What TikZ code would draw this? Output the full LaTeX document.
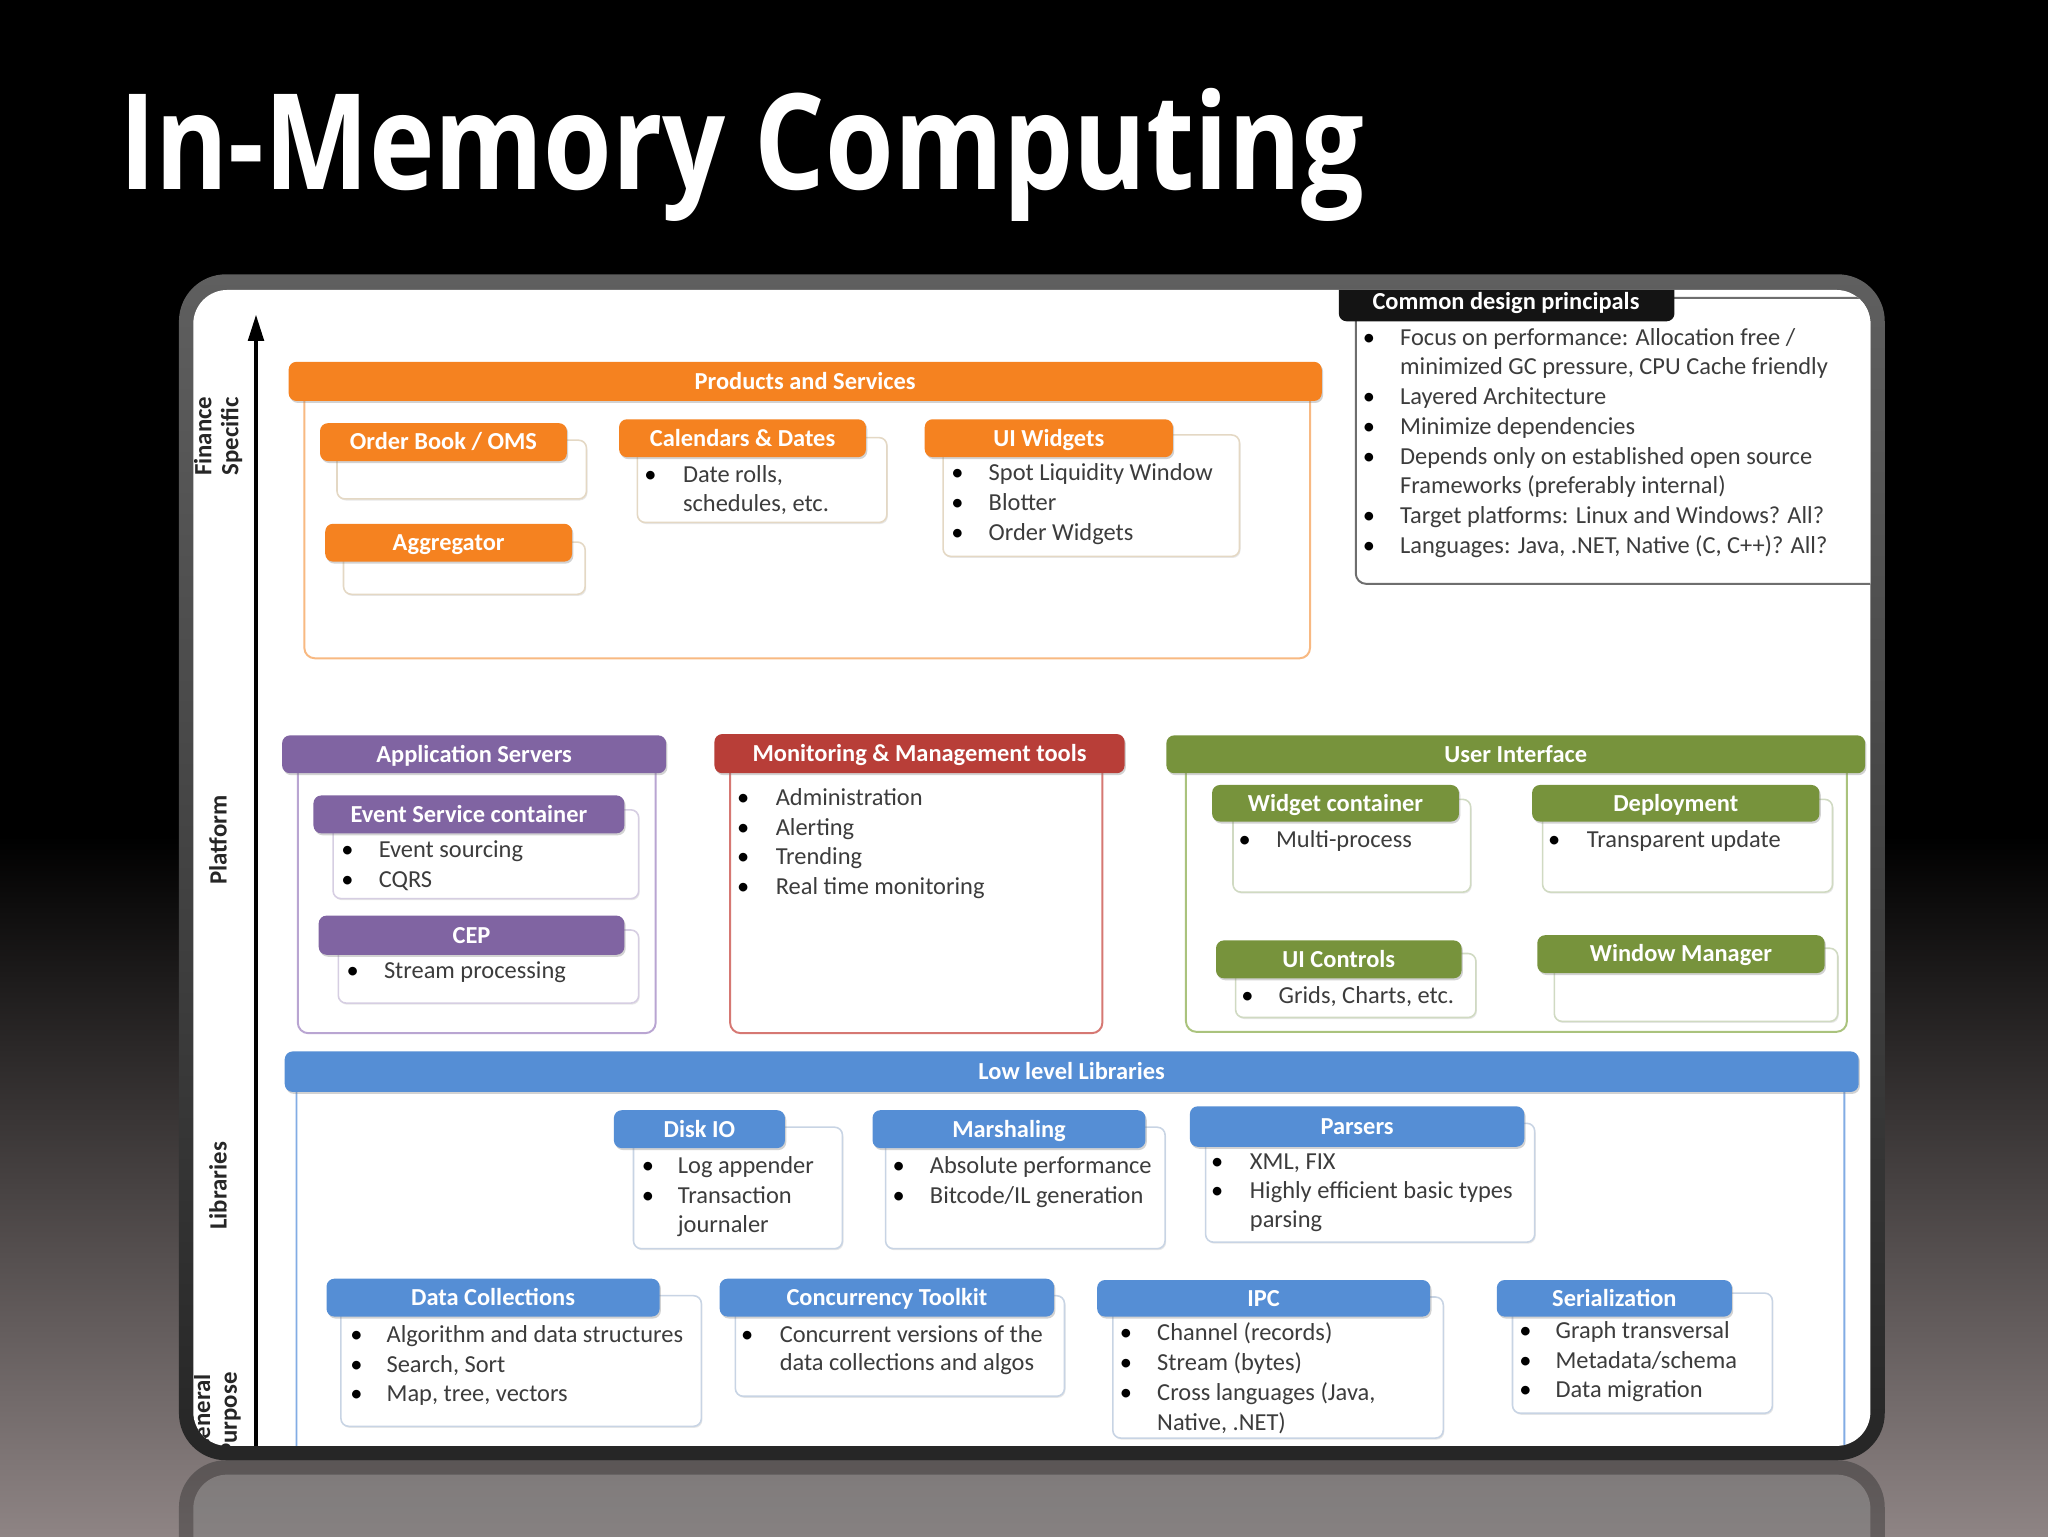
\documentclass[tikz,border=0pt]{standalone}
\usepackage{fontspec}
\setmainfont{Carlito}
\newfontfamily\titlef{Open Sans}
\usepackage{graphicx}
\usetikzlibrary{shadows,arrows.meta}
\definecolor{cOr}{RGB}{245,130,32}
\definecolor{cOrL}{RGB}{248,185,130}
\definecolor{cOrB}{RGB}{228,216,196}
\definecolor{cPu}{RGB}{128,100,162}
\definecolor{cPuL}{RGB}{185,165,210}
\definecolor{cPuB}{RGB}{214,206,226}
\definecolor{cRe}{RGB}{184,62,56}
\definecolor{cReL}{RGB}{214,120,115}
\definecolor{cGr}{RGB}{119,147,60}
\definecolor{cGrL}{RGB}{170,195,125}
\definecolor{cGrB}{RGB}{208,218,194}
\definecolor{cBl}{RGB}{85,142,213}
\definecolor{cBlL}{RGB}{130,172,228}
\definecolor{cBlB}{RGB}{200,212,228}
\definecolor{txt}{RGB}{60,60,60}
\definecolor{bgbot}{RGB}{142,132,132}
\definecolor{frtop}{RGB}{95,95,95}
\definecolor{frbot}{RGB}{38,38,38}
\definecolor{cmbox}{RGB}{110,110,110}
\tikzset{
 hdrfill/.style={rounded corners=6pt, drop shadow={shadow xshift=1pt, shadow yshift=-1.5pt, opacity=0.35}},
 hdrtxt/.style={anchor=base, inner sep=0pt, outer sep=0pt, text=white, font=\bfseries\fontsize{18.7}{20}\selectfont},
 boxs/.style={rounded corners=6pt, line width=1.2pt, fill=white, drop shadow={shadow xshift=0.8pt, shadow yshift=-1.2pt, opacity=0.18}},
 cont/.style={rounded corners=8pt, line width=1.5pt},
 lst/.style={inner sep=0pt, outer sep=0pt, anchor=base west, text=txt, font=\fontsize{18.7}{22}\selectfont},
 bul/.style={inner sep=0pt, outer sep=0pt, anchor=base, text=black, font=\fontsize{18.7}{22}\selectfont},
 axl/.style={rotate=90, align=center, inner sep=0pt, text={black!85}, font=\bfseries\fontsize{19}{20.5}\selectfont},
}
% name, x1, y1, x2, y2, colour, text
\newcommand\hdr[7]{\fill[hdrfill, fill=#6] (#2,#3) rectangle (#4,#5);
  \node[hdrtxt] (#1) at ({(#2+#4)/2},{(#3+#5)/2+6}) {#7};}
\newcommand\bodybox[5]{\draw[boxs, draw=#5] (#1,#2) rectangle (#3,#4);}
% bullet line: name, bullet x, text x, y, text
\newcommand\bl[5]{\node[bul] (#1b) at (#2,#4+5.5) {\textbullet};
  \node[lst] (#1) at (#3,#4+5.5) {#5};}
% continuation line: name, text x, y, text
\newcommand\cl[4]{\node[lst] (#1) at (#2,#3+5.5) {#4};}
\begin{document}
\begin{tikzpicture}[x=1pt,y=-1pt]
\useasboundingbox (0,0) rectangle (1568,1176);
% background
\fill[black] (0,0) rectangle (1568,640);
\shade[top color=black, bottom color=bgbot] (0,640) rectangle (1568,1176);
% reflection below the frame (mirrored frame, faded)
\begin{scope}
\clip (0,1118) rectangle (1568,1176);
\fill[frbot, opacity=0.4, rounded corners=36pt] (137,1118) rectangle (1443,2026);
\fill[white, opacity=0.22, rounded corners=26pt] (148,1129) rectangle (1432,2014);
\end{scope}
% title
\node[anchor=base west, inner sep=0pt, text=white, font=\titlef\bfseries\fontsize{102}{110}\selectfont] (title) at (91,145) {\scalebox{0.833}[1]{In-Memory Computing}};
% frame
\shade[rounded corners=36pt, top color=frtop, bottom color=frbot] (137,210) rectangle (1443,1118);
\fill[white, rounded corners=26pt] (148,222) rectangle (1432,1107);
\begin{scope}
\clip[rounded corners=26pt] (148,222) rectangle (1432,1107);
% common design principals
\draw[cmbox, line width=1.5pt, rounded corners=8pt, fill=white] (1038,228) rectangle (1460,447);
\fill[black!92, rounded corners=6pt] (1025,212) rectangle (1282,246);
\node[hdrtxt] (tCM) at (1153,237) {Common design principals};
\bl{c1}{1048}{1072}{259}{Focus on performance: Allocation free /}
\cl{c2}{1072}{281.5}{minimized GC pressure, CPU Cache friendly}
\bl{c3}{1048}{1072}{304}{Layered Architecture}
\bl{c4}{1048}{1072}{327}{Minimize dependencies}
\bl{c5}{1048}{1072}{350}{Depends only on established open source}
\cl{c6}{1072}{372.5}{Frameworks (preferably internal)}
\bl{c7}{1048}{1072}{395.5}{Target platforms: Linux and Windows? All?}
\bl{c8}{1048}{1072}{418}{Languages: Java, .NET, Native (C, C++)? All?}
% axis
\coordinate (axb) at (196,1110);
\coordinate (axt) at (196,241);
\draw[line width=2.4pt, -{Triangle[length=20pt,width=12pt]}] (axb) -- (axt);
\node[axl] (aFS) at (167,334) {Finance\\Specific};
\node[axl] (aPL) at (167,643) {Platform};
\node[axl] (aLI) at (167,908) {Libraries};
\node[axl] (aGP) at (166,1083) {General\\Purpose};
% ---------- Products and Services
\draw[cont, draw=cOrL] (233,292) rectangle (1003,504);
\bodybox{258}{337}{449}{382}{cOrB}
\bodybox{263}{415}{448}{455}{cOrB}
\bodybox{488}{335}{679}{400}{cOrB}
\bodybox{722}{333}{949}{426}{cOrB}
\hdr{hPS}{221}{277}{1012}{307}{cOr}{Products and Services}
\hdr{hOB}{245}{324}{434}{353}{cOr}{Order Book / OMS}
\hdr{hAG}{249}{401}{438}{430}{cOr}{Aggregator}
\hdr{hCD}{474}{321}{663}{350}{cOr}{Calendars \& Dates}
\hdr{hUW}{708}{321}{898}{350}{cOr}{UI Widgets}
\bl{cd1}{498}{523}{364}{Date rolls,}
\cl{cd2}{523}{386}{schedules, etc.}
\bl{uw1}{733}{757}{362.5}{Spot Liquidity Window}
\bl{uw2}{733}{757}{385.4}{Blotter}
\bl{uw3}{733}{757}{408.3}{Order Widgets}
% ---------- Application Servers
\draw[cont, draw=cPuL] (228,578) rectangle (502,791);
\bodybox{255}{620}{489}{688}{cPuB}
\bodybox{259}{712}{489}{768}{cPuB}
\hdr{hAS}{216}{563}{510}{592}{cPu}{Application Servers}
\hdr{hES}{240}{609}{478}{638}{cPu}{Event Service container}
\hdr{hCE}{244}{701}{478}{731}{cPu}{CEP}
\bl{es1}{266}{290}{651}{Event sourcing}
\bl{es2}{266}{290}{674}{CQRS}
\bl{ce1}{270}{294}{744}{Stream processing}
% ---------- Monitoring
\draw[cont, draw=cReL] (559,578) rectangle (844,791);
\hdr{hMM}{547}{562}{861}{592}{cRe}{Monitoring \& Management tools}
\bl{mm1}{569}{594}{611}{Administration}
\bl{mm2}{569}{594}{634}{Alerting}
\bl{mm3}{569}{594}{656.5}{Trending}
\bl{mm4}{569}{594}{679}{Real time monitoring}
% ---------- User Interface
\draw[cont, draw=cGrL] (908,578) rectangle (1414,790);
\bodybox{944}{612}{1126}{683}{cGrB}
\bodybox{1181}{612}{1403}{683}{cGrB}
\bodybox{946}{730}{1130}{779}{cGrB}
\bodybox{1190}{726}{1407}{782}{cGrB}
\hdr{hUI}{893}{563}{1428}{592}{cGr}{User Interface}
\hdr{hWC}{928}{601}{1117}{629}{cGr}{Widget container}
\hdr{hDP}{1173}{601}{1393}{629}{cGr}{Deployment}
\hdr{hUC}{931}{720}{1119}{749}{cGr}{UI Controls}
\hdr{hWM}{1177}{716}{1397}{745}{cGr}{Window Manager}
\bl{wc1}{953}{977}{643}{Multi-process}
\bl{dp1}{1190}{1215}{643}{Transparent update}
\bl{uc1}{955}{979}{763}{Grids, Charts, etc.}
% ---------- Low level Libraries
\draw[cont, draw=cBlL] (227,820) rectangle (1412,1130);
\bodybox{485}{863}{645}{956}{cBlB}
\bodybox{678}{863}{892}{956}{cBlB}
\bodybox{923}{860}{1175}{951}{cBlB}
\bodybox{261}{992}{537}{1092}{cBlB}
\bodybox{563}{992}{815}{1069}{cBlB}
\bodybox{852}{993}{1105}{1101}{cBlB}
\bodybox{1158}{990}{1357}{1082}{cBlB}
\hdr{hLL}{218}{805}{1423}{836}{cBl}{Low level Libraries}
\hdr{hDI}{470}{850}{601}{879}{cBl}{Disk IO}
\hdr{hMA}{668}{850}{877}{879}{cBl}{Marshaling}
\hdr{hPA}{911}{847}{1167}{878}{cBl}{Parsers}
\hdr{hDC}{250}{979}{505}{1008}{cBl}{Data Collections}
\hdr{hCT}{551}{979}{807}{1008}{cBl}{Concurrency Toolkit}
\hdr{hIP}{840}{980}{1095}{1008}{cBl}{IPC}
\hdr{hSE}{1146}{980}{1326}{1008}{cBl}{Serialization}
\bl{di1}{496}{519}{893}{Log appender}
\bl{di2}{496}{519}{915.7}{Transaction}
\cl{di3}{519}{938}{journaler}
\bl{ma1}{688}{712}{893}{Absolute performance}
\bl{ma2}{688}{712}{915.7}{Bitcode/IL generation}
\bl{pa1}{932}{957}{889.5}{XML, FIX}
\bl{pa2}{932}{957}{912.4}{Highly efficient basic types}
\cl{pa3}{957}{934}{parsing}
\bl{dc1}{273}{296}{1022}{Algorithm and data structures}
\bl{dc2}{273}{296}{1045}{Search, Sort}
\bl{dc3}{273}{296}{1067.4}{Map, tree, vectors}
\bl{ct1}{572}{597}{1022}{Concurrent versions of the}
\cl{ct2}{597}{1044}{data collections and algos}
\bl{ip1}{862}{886}{1021}{Channel (records)}
\bl{ip2}{862}{886}{1044}{Stream (bytes)}
\bl{ip3}{862}{886}{1067}{Cross languages (Java,}
\cl{ip4}{886}{1090}{Native, .NET)}
\bl{se1}{1168}{1191}{1019.6}{Graph transversal}
\bl{se2}{1168}{1191}{1042.6}{Metadata/schema}
\bl{se3}{1168}{1191}{1064.3}{Data migration}
\end{scope}
\end{tikzpicture}
\end{document}
